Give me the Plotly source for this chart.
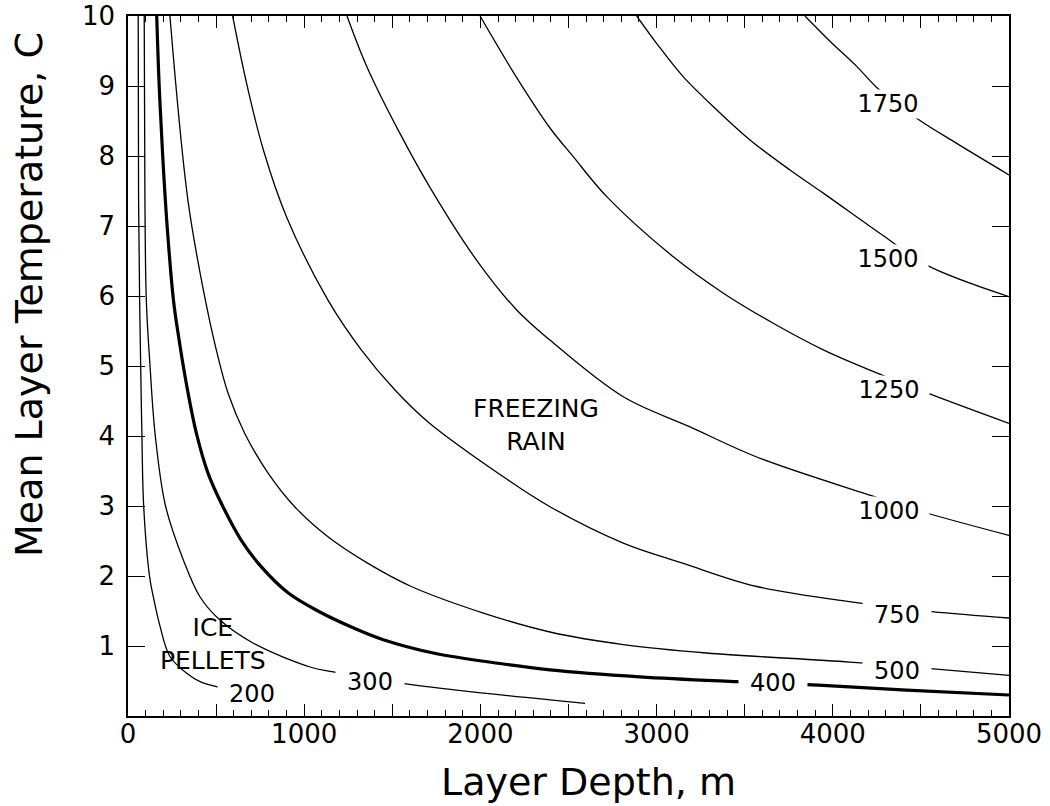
import plotly.graph_objects as go

# ---- contour lines (depth m, mean temperature C) ----
depth_200 = [58, 60, 66, 72, 79, 89, 122, 144, 182, 238, 333, 409, 532]
temp_200 = [10, 7.4, 5.94, 5.0, 4.0, 3.0, 2.0, 1.7, 1.28, 0.85, 0.61, 0.49, 0.40]

depth_300 = [92, 96, 104, 125, 155, 213, 314, 409, 522, 711, 1033, 1165, 1629, 2395, 2594]
temp_300 = [10, 7.4, 5.94, 5.0, 4.0, 3.0, 2.23, 1.70, 1.37, 1.04, 0.70, 0.63, 0.44, 0.23, 0.18]

depth_400 = [163, 177, 197, 222, 258, 284, 331, 388, 454, 539, 643, 757, 908, 1078, 1287, 1449,
             1733, 2111, 2395, 2906, 3455, 3918, 4419, 5000]
temp_400 = [10, 9, 8, 7, 5.94, 5.47, 4.75, 4.04, 3.47, 2.99, 2.51, 2.13, 1.76, 1.50, 1.25, 1.09,
            0.90, 0.75, 0.66, 0.56, 0.49, 0.44, 0.37, 0.30]

depth_500 = [238, 340, 439, 501, 568, 662, 795, 946, 1135, 1362, 1608, 2017, 2395, 2811, 3284,
             4097, 4589, 5000]
temp_500 = [10, 7.37, 5.94, 5.23, 4.61, 4.04, 3.47, 2.99, 2.56, 2.18, 1.85, 1.47, 1.20, 1.02, 0.90,
            0.77, 0.67, 0.58]

depth_750 = [594, 673, 768, 900, 1135, 1324, 1514, 1703, 2111, 2395, 2811, 3152, 3568, 4135, 4561, 5000]
temp_750 = [10, 9.04, 8.09, 7.13, 5.94, 5.23, 4.66, 4.20, 3.45, 2.99, 2.47, 2.18, 1.85, 1.62, 1.49, 1.40]

depth_1000 = [1243, 1355, 1544, 1733, 1979, 2206, 2395, 2811, 3190, 3568, 4192, 4533, 5000]
temp_1000 = [10, 9.28, 8.32, 7.47, 6.51, 5.80, 5.37, 4.56, 4.13, 3.70, 3.17, 2.90, 2.58]

depth_1250 = [1998, 2206, 2395, 2527, 2717, 3095, 3379, 3662, 3946, 4211, 4561, 5000]
temp_1250 = [10, 9.12, 8.40, 7.99, 7.42, 6.56, 6.04, 5.61, 5.23, 4.94, 4.59, 4.18]

depth_1500 = [2887, 3000, 3152, 3341, 3530, 3757, 3946, 4287, 4533, 5000]
temp_1500 = [10, 9.61, 9.13, 8.66, 8.23, 7.80, 7.47, 6.86, 6.44, 5.99]

depth_1750 = [3842, 3984, 4136, 4249, 4476, 4703, 5000]
temp_1750 = [10, 9.64, 9.28, 8.98, 8.54, 8.18, 7.73]

# ---- contour labels ----
label_text = ["200", "300", "400", "500", "750", "1000", "1250", "1500", "1750"]
label_depth = [702, 1373, 3661, 4362, 4362, 4319, 4319, 4313, 4313]
label_temp = [0.31, 0.49, 0.47, 0.64, 1.44, 2.93, 4.66, 6.53, 8.74]

# ---- region labels ----
region_text = ["ICE<br>PELLETS", "FREEZING<br>RAIN"]
region_depth = [482, 2315]
region_temp = [1.03, 4.16]

# ---- axis ticks ----
x_tickvals = [0, 500, 1000, 1500, 2000, 2500, 3000, 3500, 4000, 4500, 5000]
x_ticktext = ["0", "", "1000", "", "2000", "", "3000", "", "4000", "", "5000"]
y_tickvals = [1, 2, 3, 4, 5, 6, 7, 8, 9, 10]
y_ticktext = ["1", "2", "3", "4", "5", "6", "7", "8", "9", "10"]

FONT = "DejaVu Sans"

curves = [
    (depth_200, temp_200, 1.3),
    (depth_300, temp_300, 1.3),
    (depth_400, temp_400, 3.2),
    (depth_500, temp_500, 1.3),
    (depth_750, temp_750, 1.3),
    (depth_1000, temp_1000, 1.3),
    (depth_1250, temp_1250, 1.3),
    (depth_1500, temp_1500, 1.3),
    (depth_1750, temp_1750, 1.3),
]

fig = go.Figure()
for d, t, w in curves:
    fig.add_trace(go.Scatter(
        x=d, y=t, mode="lines",
        line=dict(color="black", width=w, shape="spline", smoothing=1.0),
        hoverinfo="skip", showlegend=False,
    ))

annotations = []
for txt, d, t in zip(label_text, label_depth, label_temp):
    annotations.append(dict(
        x=d, y=t, xref="x", yref="y", text=txt, showarrow=False,
        font=dict(family=FONT, size=24, color="black"),
        bgcolor="white", borderpad=2, height=24,
        width=64 if len(txt) == 3 else 76,
    ))
for txt, d, t in zip(region_text, region_depth, region_temp):
    annotations.append(dict(
        x=d, y=t, xref="x", yref="y", text=txt, showarrow=False,
        font=dict(family=FONT, size=25, color="black"),
    ))

W, H = 1050, 806
ML, MR, MT, MB = 128, 41, 16, 90
pw, ph = W - ML - MR, H - MT - MB

# axis titles (positioned in pixels, converted to paper coordinates)
annotations.append(dict(
    x=(588 - ML) / pw, y=1 - (782 - MT) / ph, xref="paper", yref="paper",
    xanchor="center", yanchor="middle",
    text="Layer Depth, m", showarrow=False,
    font=dict(family=FONT, size=38, color="black"),
))
annotations.append(dict(
    x=(29 - ML) / pw, y=1 - (295 - MT) / ph, xref="paper", yref="paper",
    xanchor="center", yanchor="middle",
    text="Mean Layer Temperature, C", showarrow=False, textangle=-90,
    font=dict(family=FONT, size=38, color="black"),
))

fig.update_layout(
    width=W, height=H,
    margin=dict(l=ML, r=MR, t=MT, b=MB, autoexpand=False),
    paper_bgcolor="white", plot_bgcolor="white",
    font=dict(family=FONT, color="black"),
    annotations=annotations,
    showlegend=False,
)
fig.update_xaxes(
    range=[0, 5000], showgrid=False, zeroline=False, automargin=False,
    showline=True, linecolor="black", linewidth=1.5, mirror="allticks",
    tickmode="array", tickvals=x_tickvals, ticktext=x_ticktext,
    ticks="inside", ticklen=12, tickwidth=1.2, tickcolor="black",
    tickfont=dict(family=FONT, size=26, color="black"),
    ticklabelstandoff=-6, ticklabeloverflow="allow",
    minor=dict(dtick=100, ticks="inside", ticklen=6, tickwidth=1, tickcolor="black", showgrid=False),
)
fig.update_yaxes(
    range=[0, 10], showgrid=False, zeroline=False, automargin=False,
    showline=True, linecolor="black", linewidth=1.5, mirror="allticks",
    tickmode="array", tickvals=y_tickvals, ticktext=y_ticktext,
    ticks="inside", ticklen=17, tickwidth=1.2, tickcolor="black",
    tickfont=dict(family=FONT, size=26, color="black"),
    ticklabelstandoff=6, ticklabeloverflow="allow",
)

# remove the default page margin so the figure fills the window exactly
fig.write_html(
    "out.html",
    config={"displayModeBar": False},
    post_script="document.body.style.margin='0';document.body.style.overflow='hidden';",
)
